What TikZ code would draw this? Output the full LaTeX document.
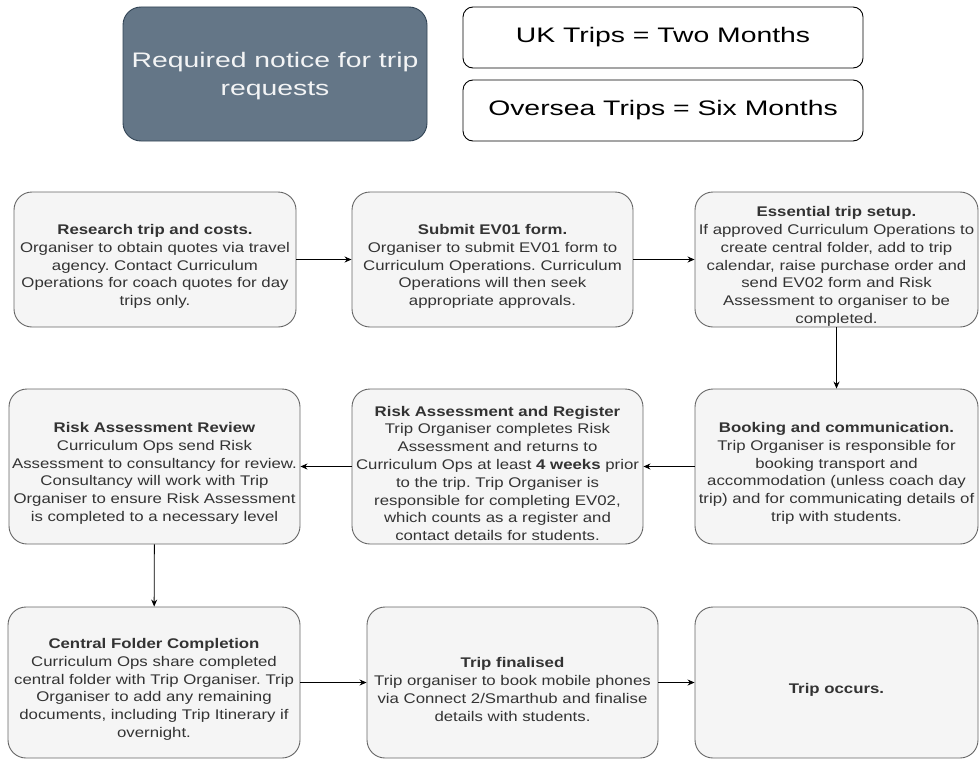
\documentclass[tikz,border=0pt]{standalone}
\usepackage{fontspec}
\setmainfont[FakeStretch=1.2]{Liberation Sans}
\newfontfamily\topfont[FakeStretch=1.35]{Liberation Sans}
\usetikzlibrary{arrows.meta}
\frenchspacing
\definecolor{boxfill}{HTML}{F5F5F5}
\definecolor{boxdraw}{HTML}{666666}
\definecolor{boxtext}{HTML}{333333}
\definecolor{darkfill}{HTML}{647687}
\definecolor{darkdraw}{HTML}{314354}
\tikzset{
  stepbox/.style={draw=boxdraw, fill=boxfill, rounded corners=18pt, line width=0.9pt,
    minimum height=#1, inner sep=0pt, align=center, text=boxtext,
    font=\frenchspacing\fontsize{14}{17.8}\selectfont,
    execute at begin node={\rule{0pt}{24pt}}},
  stepbox/.default=135pt,
  darkbox/.style={draw=darkdraw, fill=darkfill, rounded corners=18pt, line width=0.9pt,
    minimum width=304pt, minimum height=134pt, inner sep=0pt, align=center, text=white!92!darkfill,
    font=\topfont\fontsize{21}{28}\selectfont},
  notebox/.style={draw=black, fill=white, rounded corners=10pt, line width=0.9pt,
    minimum width=400pt, minimum height=61pt, inner sep=0pt, align=center, text=black,
    font=\topfont\fontsize{21}{26}\selectfont},
  conn/.style={draw=black, line width=0.9pt, -{Stealth[length=7pt,width=6pt]}},
}
\begin{document}
\begin{tikzpicture}[x=1pt,y=-1pt]
\useasboundingbox (0,0) rectangle (979,760);
% top
\node[darkbox] (notice) at (275,74) {\rule{0pt}{20pt}Required notice for trip\\requests};
\node[notebox] (uk) at (663,37.5) {UK Trips = Two Months};
\node[notebox] (os) at (663,110.5) {Oversea Trips = Six Months};
% row 1
\node[stepbox, minimum width=282pt, text width=282pt] (research) at (155,259.5)
 {\textbf{Research trip and costs.}\\Organiser to obtain quotes via travel\\agency. Contact Curriculum\\Operations for coach quotes for day\\trips only.};
\node[stepbox, minimum width=281pt, text width=281pt] (submit) at (492.5,259.5)
 {\textbf{Submit EV01 form.}\\Organiser to submit EV01 form to\\Curriculum Operations. Curriculum\\Operations will then seek\\appropriate approvals.};
\node[stepbox, minimum width=283pt, text width=283pt] (setup) at (836.5,259.5)
 {\textbf{Essential trip setup.}\\If approved Curriculum Operations to\\create central folder, add to trip\\calendar, raise purchase order and\\send EV02 form and Risk\\Assessment to organiser to be\\completed.};
% row 2
\node[stepbox=155pt, minimum width=291pt, text width=291pt] (review) at (154.5,466.5)
 {\textbf{Risk Assessment Review}\\Curriculum Ops send Risk\\Assessment to consultancy for review.\\Consultancy will work with Trip\\Organiser to ensure Risk Assessment\\is completed to a necessary level};
\node[stepbox=155pt, minimum width=291pt, text width=291pt] (register) at (497.5,466.5)
 {\textbf{Risk Assessment and Register}\\Trip Organiser completes Risk\\Assessment and returns to\\Curriculum Ops at least \textbf{4 weeks} prior\\to the trip. Trip Organiser is\\responsible for completing EV02,\\which counts as a register and\\contact details for students.};
\node[stepbox=155pt, minimum width=283pt, text width=283pt] (booking) at (836.5,466.5)
 {\textbf{Booking and communication.}\\Trip Organiser is responsible for\\booking transport and\\accommodation (unless coach day\\trip) and for communicating details of\\trip with students.};
% row 3
\node[stepbox=151pt, minimum width=292pt, text width=292pt] (central) at (154,682.5)
 {\textbf{Central Folder Completion}\\Curriculum Ops share completed\\central folder with Trip Organiser. Trip\\Organiser to add any remaining\\documents, including Trip Itinerary if\\overnight.};
\node[stepbox=151pt, minimum width=291pt, text width=291pt] (final) at (512.5,682.5)
 {\textbf{Trip finalised}\\Trip organiser to book mobile phones\\via Connect 2/Smarthub and finalise\\details with students.};
\node[stepbox=151pt, minimum width=283pt, text width=283pt] (occurs) at (836.5,682.5)
 {\textbf{Trip occurs.}};
% connectors
\draw[conn] (research) -- (submit);
\draw[conn] (submit) -- (setup);
\draw[conn] (setup) -- (booking);
\draw[conn] (booking) -- (register);
\draw[conn] (register) -- (review);
\draw[conn] (review) -- (central);
\draw[conn] (central) -- (final);
\draw[conn] (final) -- (occurs);
\end{tikzpicture}
\end{document}
